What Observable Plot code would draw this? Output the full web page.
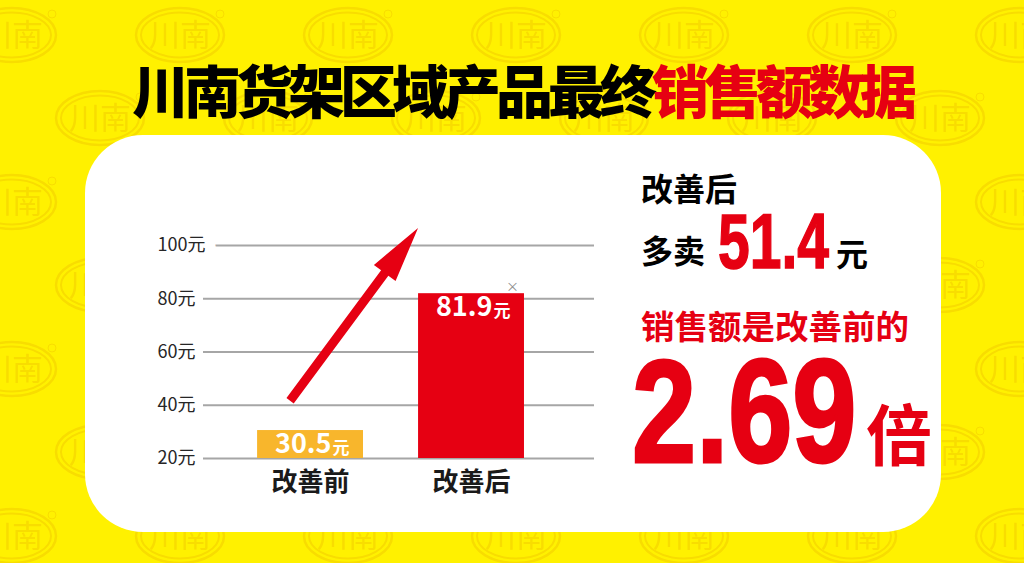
<!DOCTYPE html>
<html>
<head>
<meta charset="utf-8">
<script src="https://cdn.jsdelivr.net/npm/d3@7"></script>
<script src="https://cdn.jsdelivr.net/npm/@observablehq/plot@0.6"></script>
<style>
html,body{margin:0;padding:0;}
body{width:1024px;height:563px;overflow:hidden;position:relative;background:#FFF100;font-family:"Noto Sans CJK SC","Noto Sans",sans-serif;}
.abs{position:absolute;line-height:1;white-space:nowrap;}
#panel{position:absolute;left:85px;top:135px;width:856px;height:397px;border-radius:58px;background:#fff;}
#title{left:10px;top:60px;width:1024px;text-align:center;font-size:57px;font-weight:900;letter-spacing:-5px;color:#000;}
.side{font-weight:bold;color:#000;}
.red{color:#E60012;}
.num{font-family:"Liberation Sans",Arial,sans-serif;font-weight:bold;color:#E60012;transform-origin:0 0;}
#chart{left:140px;top:220px;}
</style>
</head>
<body>
<svg width="1024" height="563" style="position:absolute;left:0;top:0">
  <defs>
    <g id="logo" fill="none" stroke="#F8DD00">
      <ellipse rx="44" ry="27" stroke-width="2.5"/>
      <ellipse rx="39" ry="22.5" stroke-width="2"/>
      <text y="11" text-anchor="middle" font-size="31" font-weight="normal" fill="#F8DD00" stroke="none" font-family="Noto Sans CJK SC">川南</text>
      <circle cx="40" cy="-21" r="4" stroke-width="1"/>
    </g>
    <pattern id="wm" patternUnits="userSpaceOnUse" width="168" height="167">
      <use href="#logo" x="12" y="35"/>
      <use href="#logo" x="180" y="35"/>
      <use href="#logo" x="100" y="118"/>
    </pattern>
  </defs>
  <rect width="1024" height="563" fill="url(#wm)"/>
</svg>
<div id="panel"></div>
<div id="title" class="abs">川南货架区域产品最终<span class="red">销售额数据</span></div>
<div id="chart" class="abs"></div>

<div class="abs side" style="left:641px;top:171px;font-size:32px;">改善后</div>
<div class="abs side" style="left:641px;top:233px;font-size:32px;">多卖</div>
<div class="abs num" style="left:718px;top:203px;font-size:77px;transform:scaleX(0.74);-webkit-text-stroke:1.5px #E60012;">51.4</div>
<div class="abs side" style="left:836px;top:236px;font-size:32px;">元</div>
<div class="abs side red" style="left:641px;top:308px;font-size:33.5px;">销售额是改善前的</div>
<div class="abs num" style="left:632px;top:356.7px;font-size:146px;line-height:0.75;transform:scaleX(0.79);-webkit-text-stroke:3px #E60012;">2.69</div>
<div class="abs side red" style="left:866px;top:398px;font-size:66px;">倍</div>

<script>
// ---- data ----
const categories = ["改善前", "改善后"];
const salesValues = [30.5, 81.9];
const barColors = ["#F8B62C", "#E60012"];
const yTicks = [20, 40, 60, 80, 100];
const yUnit = "元";
// arrow annotation in data space: [category index, value]
const arrowTail = [-0.124, 41.5];
const arrowHead = [0.671, 106.4];
const noteMark = [1.255, 84.6];

const bars = categories.map((c, i) => ({category: c, index: i, value: salesValues[i], color: barColors[i]}));
const barHalf = 0.329;

function arrowRender(index, scales) {
  const x = scales.x, y = scales.y;
  const tx = x(arrowTail[0]), ty = y(arrowTail[1]);
  const hx = x(arrowHead[0]), hy = y(arrowHead[1]);
  const dx = hx - tx, dy = hy - ty, len = Math.hypot(dx, dy);
  const ux = dx / len, uy = dy / len, nx = -uy, ny = ux;
  const L = 56, W = 13.5, s = 4.5;
  const bx = hx - L * ux, by = hy - L * uy;
  const pts = [
    [tx + nx * s, ty + ny * s], [bx + nx * s, by + ny * s], [bx + nx * W, by + ny * W],
    [hx, hy], [bx - nx * W, by - ny * W], [bx - nx * s, by - ny * s], [tx - nx * s, ty - ny * s]
  ];
  const p = document.createElementNS("http://www.w3.org/2000/svg", "path");
  p.setAttribute("d", "M" + pts.map(q => q[0].toFixed(2) + "," + q[1].toFixed(2)).join("L") + "Z");
  p.setAttribute("fill", "#E60012");
  return p;
}

const chart = Plot.plot({
  width: 460,
  height: 290,
  marginTop: 25,
  marginBottom: 52,
  marginLeft: 63,
  marginRight: 6,
  x: {domain: [-0.665, 1.764], axis: null},
  y: {domain: [20, 100], axis: null},
  color: {type: "identity"},
  style: {background: "transparent", overflow: "visible", fontFamily: "'Noto Sans CJK SC', 'Noto Sans', sans-serif"},
  marks: [
    Plot.ruleY(yTicks, {y: d => d, stroke: "#A6A6A6", strokeWidth: 2}),
    Plot.text(yTicks.filter(d => d === 100), {y: d => d, text: d => d + yUnit, frameAnchor: "left", dx: -46, textAnchor: "start", fontSize: 18, fill: "white", stroke: "white", strokeWidth: 22}),
    Plot.text(yTicks, {y: d => d, text: d => d + yUnit, frameAnchor: "left", dx: -46, textAnchor: "start", fontSize: 18, fill: "#262626"}),
    Plot.rect(bars, {x1: d => d.index - barHalf, x2: d => d.index + barHalf, y1: () => yTicks[0], y2: "value", fill: "color"}),
    Plot.text(bars, {x: "index", y: "value", text: d => d.value.toFixed(1), dx: 21, dy: 14, textAnchor: "end", fill: "white", fontSize: 27, fontWeight: "bold"}),
    Plot.text(bars, {x: "index", y: "value", text: () => yUnit, dx: 22, dy: 18, textAnchor: "start", fill: "white", fontSize: 17, fontWeight: "bold"}),
    arrowRender,
    Plot.text([noteMark], {x: d => d[0], y: d => d[1], text: () => "×", fill: "#8C8C8C", fontSize: 13}),
    Plot.text(bars, {x: "index", text: "category", frameAnchor: "bottom", dy: 32, fontSize: 26, fontWeight: "bold", fill: "#1A1A1A"})
  ]
});
document.getElementById("chart").appendChild(chart);
</script>
</body>
</html>
